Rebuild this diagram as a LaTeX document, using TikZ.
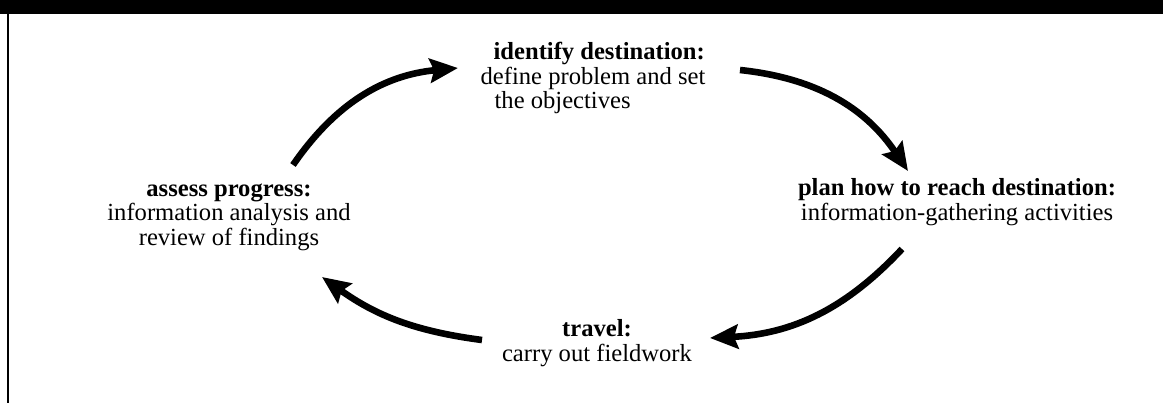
\documentclass[tikz,border=0pt]{standalone}
\usepackage{fontspec}
\setmainfont{Liberation Serif}
\usetikzlibrary{arrows.meta,positioning}

\begin{document}
\begin{tikzpicture}[x=0.5pt, y=-0.5pt, >={Stealth[length=14pt, width=12pt, inset=2pt]},
    stage/.style={inner sep=0pt, align=center, font=\fontsize{12.3}{12.2}\selectfont},
    cyclearrow/.style={->, line width=3.3pt}]
    \useasboundingbox (0,0) rectangle (1163,403);
    % frame of the figure
    \fill[black] (0,0) rectangle (1163,14);
    \draw[line width=1pt] (8,14) -- (8,403);

    \node[stage, align=left] (identify) at (593,78) {\hspace*{6.5pt}\textbf{identify destination:}\\define problem and set\\\hspace*{7pt}the objectives};
    \node[stage] (plan) at (957,202) {\textbf{plan how to reach destination:}\\information-gathering activities};
    \node[stage] (travel) at (597,343) {\textbf{travel:}\\carry out fieldwork};
    \node[stage] (assess) at (229,217) {\textbf{assess progress:}\\information analysis and\\review of findings};

    \coordinate (a1) at (293,165);
    \coordinate (b1) at (458,68);
    \coordinate (a2) at (740,70);
    \coordinate (b2) at (908,171);
    \coordinate (a3) at (902,249);
    \coordinate (b3) at (710,338);
    \coordinate (a4) at (482,340);
    \coordinate (b4) at (322,277);

    \draw[cyclearrow] (a1) to[bend left=25] (b1);
    \draw[cyclearrow] (a2) to[bend left=25] (b2);
    \draw[cyclearrow] (a3) to[bend left=22] (b3);
    \draw[cyclearrow] (a4) to[bend left=14] (b4);
\end{tikzpicture}
\end{document}
